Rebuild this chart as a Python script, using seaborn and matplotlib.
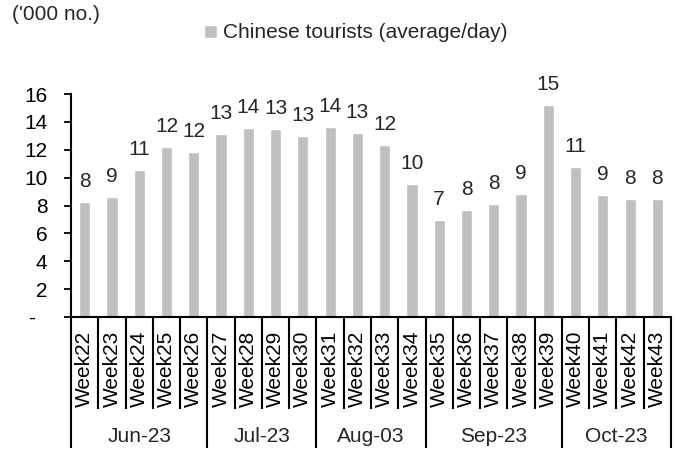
import matplotlib
matplotlib.use("Agg")
import matplotlib.pyplot as plt
import matplotlib.transforms as mtransforms
import seaborn as sns
import pandas as pd

weeks = [f"Week{i}" for i in range(22, 44)]
tourists = [8.23, 8.63, 10.55, 12.17, 11.81, 13.13, 13.54, 13.46, 12.98, 13.65,
            13.22, 12.34, 9.54, 6.96, 7.65, 8.11, 8.82, 15.21, 10.74, 8.73, 8.49, 8.44]
months = ["Jun-23", "Jul-23", "Aug-03", "Sep-23", "Oct-23"]
month_sizes = [5, 4, 4, 5, 4]
y_ticks = [0, 2, 4, 6, 8, 10, 12, 14, 16]
y_tick_labels = ["-  ", "2", "4", "6", "8", "10", "12", "14", "16"]
series_name = "Chinese tourists (average/day)"
unit_label = "('000 no.)"

sns.set_theme(style="white")
plt.rcParams["font.family"] = ["Liberation Sans", "DejaVu Sans"]
FS = 15

df = pd.DataFrame({"week": weeks, "value": tourists})

fig = plt.figure(figsize=(6.75, 4.5), dpi=100)
ax = fig.add_axes([71 / 675, 133 / 450, 600 / 675, 223 / 450])

sns.barplot(data=df, x="week", y="value", color="#BFBFBF", saturation=1,
            width=0.41, ax=ax, label=series_name)

ax.set_ylim(0, 16)
ax.set_xlim(-0.5, len(weeks) - 0.5)
ax.set_yticks(y_ticks)
ax.set_yticklabels(y_tick_labels, fontsize=FS)
ax.tick_params(axis="y", direction="out", length=5, width=1.3, pad=12, left=True, colors="black")
ax.set_xticks(range(len(weeks)))
ax.set_xticklabels(weeks, rotation=90, fontsize=FS)
ax.tick_params(axis="x", length=0, pad=10, colors="black")
ax.set_xlabel("")
ax.set_ylabel("")
for s in ["top", "right"]:
    ax.spines[s].set_visible(False)
for s in ["left", "bottom"]:
    ax.spines[s].set_color("black")
    ax.spines[s].set_linewidth(1.5)

# value labels
for c in ax.containers:
    ax.bar_label(c, labels=[f"{v:.0f}" for v in tourists], padding=8, fontsize=FS)

# category separators
trans = mtransforms.blended_transform_factory(ax.transData, ax.transAxes)
boundaries = [0]
for n in month_sizes:
    boundaries.append(boundaries[-1] + n)
for i in range(len(weeks) + 1):
    x = i - 0.5
    bottom = -0.587 if i in boundaries else -0.413
    ax.plot([x, x], [0, bottom], transform=trans, color="black", lw=1.5,
            clip_on=False, solid_capstyle="butt")

# month labels
for m, a, b in zip(months, boundaries[:-1], boundaries[1:]):
    ax.text((a + b - 1) / 2, -0.534, m, transform=trans, ha="center", va="center", fontsize=FS)

fig.text(12 / 675, 1 - 15 / 450, unit_label, fontsize=FS, ha="left", va="center")
ax.legend(loc="center", bbox_to_anchor=(0.527, 1 - 33 / 450), bbox_transform=fig.transFigure,
          frameon=False, fontsize=FS, handlelength=0.6, handleheight=0.6, handletextpad=0.3)

fig.savefig("out.png", dpi=100)
